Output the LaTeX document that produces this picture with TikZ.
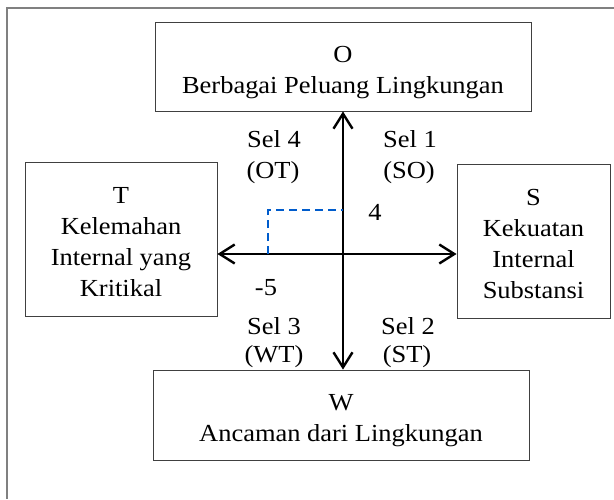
\documentclass[tikz,border=0pt]{standalone}
\usepackage{fontspec}
\setmainfont{Liberation Serif}[FakeStretch=1.08]
\usetikzlibrary{arrows.meta,positioning}

\newcommand{\isikotak}[1]{\raisebox{-5pt}[\height][\depth]{\begin{tabular}{@{}c@{}}#1\end{tabular}}}

\tikzset{
  kotak/.style={draw=black!75, line width=0.9pt, align=center, inner sep=0pt,
    font=\fontsize{24.5}{31}\selectfont},
  sumbu/.style={line width=2.4pt, {Straight Barb[length=15pt,width=19pt,line width=2.4pt]}-{Straight Barb[length=15pt,width=19pt,line width=2.4pt]}},
  label/.style={font=\fontsize{24.5}{31}\selectfont, inner sep=0pt},
  titik/.style={draw=blue!55!cyan!80!black, line width=1.4pt, dash pattern=on 8pt off 5pt}
}

\begin{document}
\begin{tikzpicture}[x=1pt, y=-1pt]
   \useasboundingbox (0,0) rectangle (614,499);
   % frame
   \draw[black!50, line width=1.6pt] (614,8) -- (7,8) -- (7,499);

   % boxes
   \node[kotak, minimum width=376pt, minimum height=89pt] (O) at (343,66.5) {\isikotak{O\\Berbagai Peluang Lingkungan}};
   \node[kotak, minimum width=376pt, minimum height=90pt] (W) at (341,415) {\isikotak{W\\Ancaman dari Lingkungan}};
   \node[kotak, minimum width=192pt, minimum height=154pt] (T) at (121,239) {\isikotak{T\\Kelemahan\\Internal yang\\Kritikal}};
   \node[kotak, minimum width=153pt, minimum height=154pt] (S) at (533.5,241) {\isikotak{S\\Kekuatan\\Internal\\Substansi}};

   \coordinate (pusat) at (343,254);
   \draw[sumbu] (pusat |- O.south) -- (pusat |- W.north);
   \draw[sumbu] (pusat -| T.east) -- (pusat -| S.west);

   % dashed point
   \coordinate (dy) at (343,210);
   \coordinate (dx) at (268,254);
   \draw[titik] (dx) -- (dx |- dy) -- (dy);

   % cells
   \node[label] (s4) at (274,139) {Sel 4};
   \node[label] (ot) at (273,173) {(OT)};
   \node[label] (s1) at (410,139) {Sel 1};
   \node[label] (so) at (409,173) {(SO)};
   \node[label] (s3) at (274,326) {Sel 3};
   \node[label] (wt) at (274,357) {(WT)};
   \node[label] (s2) at (408,326) {Sel 2};
   \node[label] (st) at (407,357) {(ST)};
   \node[label] (empat) at (375,212) {4};
   \node[label] (lima) at (266,288) {-5};
\end{tikzpicture}
\end{document}
